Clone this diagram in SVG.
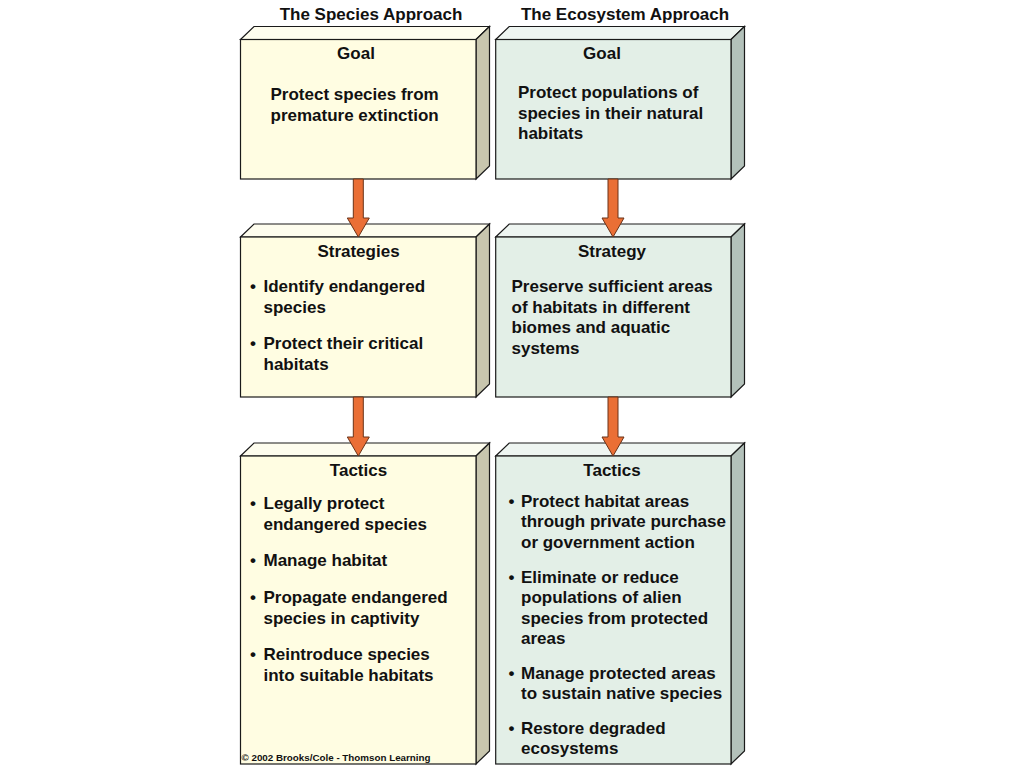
<svg xmlns="http://www.w3.org/2000/svg" width="1024" height="768" viewBox="0 0 1024 768">
<style>
  .fy{fill:#FFFDE2;stroke:#1a1a1a;stroke-width:1.2}
  .ty{fill:#FEFDEE;stroke:#1a1a1a;stroke-width:1.2}
  .sy{fill:#C8C6AE;stroke:#1a1a1a;stroke-width:1.2}
  .fg{fill:#E3EFE7;stroke:#1a1a1a;stroke-width:1.2}
  .tg{fill:#EEF5F1;stroke:#1a1a1a;stroke-width:1.2}
  .sg{fill:#B3C1BA;stroke:#1a1a1a;stroke-width:1.2}
  text{font-family:"Liberation Sans",Arial,Helvetica,sans-serif;font-weight:bold;font-size:17px;fill:#111}
  .c{text-anchor:middle}
  .cp{font-size:9.8px}
  .arr{fill:#EA6F35;stroke:#6a3318;stroke-width:1}
</style>

<text class="c" x="371" y="20">The Species Approach</text>
<text class="c" x="625" y="20">The Ecosystem Approach</text>

<!-- Row 1 -->
<g id="species-goal">
  <polygon class="ty" points="240.5,39.5 254,26.5 489.5,26.5 476,39.5"/>
  <polygon class="sy" points="476,39.5 489.5,26.5 489.5,166 476,179"/>
  <rect class="fy" x="240.5" y="39.5" width="235.5" height="139.5"/>
  <text class="c" x="356" y="59">Goal</text>
  <text x="270.5" y="100">Protect species from</text>
  <text x="270.5" y="120.5">premature extinction</text>
</g>
<g id="ecosystem-goal">
  <polygon class="tg" points="495.7,39.5 509.2,26.5 744.5,26.5 731,39.5"/>
  <polygon class="sg" points="731,39.5 744.5,26.5 744.5,166 731,179"/>
  <rect class="fg" x="495.7" y="39.5" width="235.3" height="139.5"/>
  <text class="c" x="602" y="59">Goal</text>
  <text x="518" y="98">Protect populations of</text>
  <text x="518" y="118.5">species in their natural</text>
  <text x="518" y="139">habitats</text>
</g>

<!-- Row 2 -->
<g id="species-strategies">
  <polygon class="ty" points="240.5,237 254,224 489.5,224 476,237"/>
  <polygon class="sy" points="476,237 489.5,224 489.5,384 476,397"/>
  <rect class="fy" x="240.5" y="237" width="235.5" height="160"/>
  <text class="c" x="358.5" y="257">Strategies</text>
  <text x="250" y="292">•</text>
  <text x="263.5" y="292">Identify endangered</text>
  <text x="263.5" y="312.5">species</text>
  <text x="250" y="349">•</text>
  <text x="263.5" y="349">Protect their critical</text>
  <text x="263.5" y="369.5">habitats</text>
</g>
<g id="ecosystem-strategy">
  <polygon class="tg" points="495.7,237 509.2,224 744.5,224 731,237"/>
  <polygon class="sg" points="731,237 744.5,224 744.5,384 731,397"/>
  <rect class="fg" x="495.7" y="237" width="235.3" height="160"/>
  <text class="c" x="612" y="257">Strategy</text>
  <text x="511.5" y="292">Preserve sufficient areas</text>
  <text x="511.5" y="312.5">of habitats in different</text>
  <text x="511.5" y="333">biomes and aquatic</text>
  <text x="511.5" y="353.5">systems</text>
</g>

<!-- Row 3 -->
<g id="species-tactics">
  <polygon class="ty" points="240.5,456 254,443 489.5,443 476,456"/>
  <polygon class="sy" points="476,456 489.5,443 489.5,751 476,764"/>
  <rect class="fy" x="240.5" y="456" width="235.5" height="308"/>
  <text class="c" x="358.5" y="476">Tactics</text>
  <text x="250" y="509">•</text>
  <text x="263.5" y="509">Legally protect</text>
  <text x="263.5" y="529.5">endangered species</text>
  <text x="250" y="566">•</text>
  <text x="263.5" y="566">Manage habitat</text>
  <text x="250" y="603">•</text>
  <text x="263.5" y="603">Propagate endangered</text>
  <text x="263.5" y="623.5">species in captivity</text>
  <text x="250" y="660">•</text>
  <text x="263.5" y="660">Reintroduce species</text>
  <text x="263.5" y="680.5">into suitable habitats</text>
  <text class="cp" x="241.5" y="760.5">© 2002 Brooks/Cole - Thomson Learning</text>
</g>
<g id="ecosystem-tactics">
  <polygon class="tg" points="495.7,456 509.2,443 744.5,443 731,456"/>
  <polygon class="sg" points="731,456 744.5,443 744.5,751 731,764"/>
  <rect class="fg" x="495.7" y="456" width="235.3" height="308"/>
  <text class="c" x="612" y="476">Tactics</text>
  <text x="508.5" y="506.5">•</text>
  <text x="521" y="506.5">Protect habitat areas</text>
  <text x="521" y="527">through private purchase</text>
  <text x="521" y="547.5">or government action</text>
  <text x="508.5" y="582.5">•</text>
  <text x="521" y="582.5">Eliminate or reduce</text>
  <text x="521" y="603">populations of alien</text>
  <text x="521" y="623.5">species from protected</text>
  <text x="521" y="644">areas</text>
  <text x="508.5" y="678.5">•</text>
  <text x="521" y="678.5">Manage protected areas</text>
  <text x="521" y="699">to sustain native species</text>
  <text x="508.5" y="733.5">•</text>
  <text x="521" y="733.5">Restore degraded</text>
  <text x="521" y="754">ecosystems</text>
</g>

<!-- Connectors -->
<g id="connectors">
  <path class="arr" d="M353.3,179 H363.3 V218 H369.3 L358.3,237 L347.3,218 H353.3 Z"/>
  <path class="arr" d="M353.3,397 H363.3 V437 H369.3 L358.3,456 L347.3,437 H353.3 Z"/>
  <path class="arr" d="M608,179 H618 V218 H624 L613,237 L602,218 H608 Z"/>
  <path class="arr" d="M608,397 H618 V437 H624 L613,456 L602,437 H608 Z"/>
</g>
</svg>
